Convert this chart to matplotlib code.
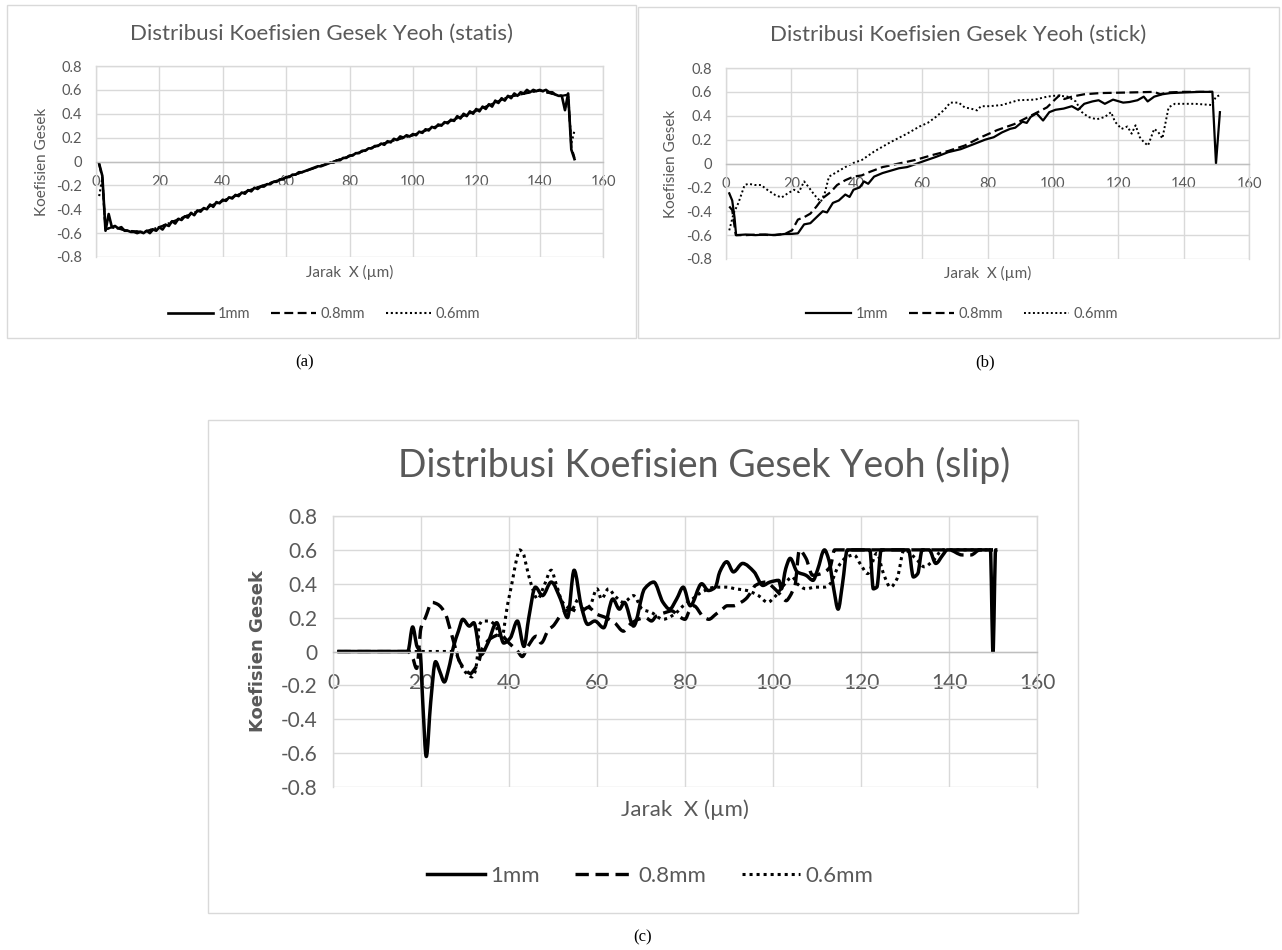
import numpy as np
import matplotlib
matplotlib.use("Agg")
import matplotlib.pyplot as plt
from matplotlib.patches import Rectangle, PathPatch
from matplotlib.path import Path
from matplotlib.lines import Line2D

plt.rcParams["axes.unicode_minus"] = False

# ---------------------------------------------------------------- data
series_labels = ["1mm", "0.8mm", "0.6mm"]
x_ticks = [0, 20, 40, 60, 80, 100, 120, 140, 160]
x_tick_labels = ["0", "20", "40", "60", "80", "100", "120", "140", "160"]
y_ticks = [-0.8, -0.6, -0.4, -0.2, 0.0, 0.2, 0.4, 0.6, 0.8]
y_tick_labels = ["-0.8", "-0.6", "-0.4", "-0.2", "0", "0.2", "0.4", "0.6", "0.8"]

# (a) static friction coefficient
statis_x_1mm = list(range(1, 152))
statis_1mm = [
    -0.02, -0.12, -0.58, -0.44, -0.55, -0.54, -0.56, -0.55, -0.58, -0.58,
    -0.59, -0.59, -0.60, -0.59, -0.60, -0.58, -0.60, -0.57, -0.58, -0.55,
    -0.57, -0.53, -0.54, -0.50, -0.52, -0.48, -0.49, -0.46, -0.47, -0.43,
    -0.45, -0.41, -0.42, -0.39, -0.40, -0.36, -0.38, -0.34, -0.35, -0.32,
    -0.33, -0.30, -0.31, -0.28, -0.29, -0.26, -0.27, -0.24, -0.25, -0.22,
    -0.23, -0.21, -0.21, -0.19, -0.19, -0.17, -0.17, -0.15, -0.15, -0.13,
    -0.13, -0.11, -0.11, -0.09, -0.09, -0.08, -0.07, -0.06, -0.05, -0.04,
    -0.04, -0.03, -0.02, -0.01, -0.01, 0.01, 0.01, 0.03, 0.03, 0.05,
    0.05, 0.07, 0.07, 0.09, 0.09, 0.11, 0.11, 0.13, 0.13, 0.15,
    0.14, 0.17, 0.16, 0.19, 0.18, 0.21, 0.20, 0.22, 0.21, 0.23,
    0.22, 0.25, 0.24, 0.27, 0.26, 0.29, 0.28, 0.31, 0.30, 0.33,
    0.32, 0.35, 0.34, 0.38, 0.36, 0.40, 0.38, 0.42, 0.40, 0.44,
    0.42, 0.46, 0.44, 0.48, 0.46, 0.51, 0.49, 0.53, 0.51, 0.55,
    0.53, 0.57, 0.55, 0.58, 0.57, 0.60, 0.58, 0.60, 0.59, 0.60,
    0.59, 0.60, 0.58, 0.58, 0.56, 0.55, 0.55, 0.43, 0.57, 0.10,
    0.02,
]
statis_x_08 = [1, 2, 3, 5, 10, 15, 20, 30, 40, 50, 60, 70, 80, 90, 100,
               110, 120, 130, 140, 145, 147, 149, 150, 151]
statis_08 = [-0.02, -0.14, -0.57, -0.55, -0.58, -0.59, -0.55, -0.44, -0.33,
             -0.225, -0.135, -0.045, 0.045, 0.145, 0.22, 0.32, 0.425, 0.54,
             0.595, 0.56, 0.55, 0.56, 0.12, 0.03]
statis_x_06 = [1, 2, 3, 5, 10, 15, 20, 30, 40, 50, 60, 70, 80, 90, 100,
               110, 120, 130, 140, 145, 147, 149, 150, 151]
statis_06 = [-0.29, -0.14, -0.57, -0.55, -0.58, -0.59, -0.55, -0.44, -0.33,
             -0.225, -0.135, -0.045, 0.045, 0.145, 0.22, 0.32, 0.425, 0.54,
             0.595, 0.56, 0.55, 0.56, 0.15, 0.26]

# (b) stick friction coefficient
stick_x_1mm = [1, 1.9, 2.6, 3.1, 6, 9, 12, 15, 18, 20, 22, 23.9, 25.8, 27.7,
               29.6, 30.9, 32.7, 34.5, 36.5, 37.8, 39, 40.9, 42.2, 43.5, 45.3,
               47.9, 50.4, 52.9, 55.4, 58, 60.5, 64.2, 68, 71.8, 75.6, 79.3,
               81.9, 84.4, 86.9, 88.5, 90.7, 92, 93.2, 95, 97, 98.9, 100.8,
               103.3, 105.8, 107.7, 109.6, 112.1, 114, 115.9, 118.4, 121.5,
               123.4, 125.9, 127.8, 129, 131, 133.5, 136, 140, 145, 148.8,
               149.9, 151.1]
stick_1mm = [-0.25, -0.31, -0.45, -0.60, -0.595, -0.60, -0.595, -0.60, -0.59,
             -0.59, -0.585, -0.51, -0.50, -0.45, -0.40, -0.41, -0.33, -0.31,
             -0.26, -0.28, -0.22, -0.20, -0.15, -0.17, -0.11, -0.08, -0.06,
             -0.04, -0.03, -0.005, 0.02, 0.055, 0.095, 0.12, 0.16, 0.20, 0.22,
             0.26, 0.29, 0.30, 0.35, 0.34, 0.39, 0.42, 0.36, 0.43, 0.45, 0.46,
             0.48, 0.45, 0.50, 0.52, 0.53, 0.50, 0.535, 0.51, 0.515, 0.53,
             0.56, 0.52, 0.56, 0.58, 0.59, 0.595, 0.60, 0.60, 0.0, 0.43]
stick_x_08 = [1, 1.9, 3, 6, 10, 14, 18, 20.2, 22, 23.9, 25.8, 27.7, 29.6, 32,
              34, 36.5, 39, 41.5, 44, 47.9, 52.9, 58, 63, 68, 73, 78, 83, 88.2,
              93.2, 98.2, 100.8, 102, 103.5, 105.8, 109.6, 114.6, 123.4, 131,
              132.9, 135, 140, 149]
stick_08 = [-0.36, -0.39, -0.60, -0.60, -0.595, -0.60, -0.59, -0.56, -0.47,
            -0.45, -0.42, -0.36, -0.29, -0.24, -0.18, -0.14, -0.11, -0.10,
            -0.07, -0.03, 0.0, 0.03, 0.07, 0.105, 0.15, 0.22, 0.28, 0.33,
            0.40, 0.47, 0.54, 0.57, 0.54, 0.56, 0.58, 0.59, 0.595, 0.60,
            0.58, 0.595, 0.60, 0.60]
stick_x_06 = [1, 2.3, 3.8, 5.7, 6.9, 8.8, 10.7, 12.6, 15.1, 17, 18.9, 20.8,
              22.3, 23.9, 25.2, 27.1, 29, 30.2, 31.5, 34, 36.5, 39, 41.6,
              45.3, 50.4, 55.4, 59.2, 61.7, 64.2, 66.8, 68.6, 71.2, 73, 74.9,
              76.8, 78, 80.6, 84.4, 89.4, 94.5, 98.2, 101.3, 104.5, 107,
              108.9, 110.8, 113.4, 115.9, 117.8, 119, 121, 122.8, 124.1,
              125.3, 126.6, 127.8, 129.1, 131, 132.2, 133.5, 135.4, 137.3,
              143.6, 148.6, 149.9, 150.9]
stick_06 = [-0.56, -0.42, -0.33, -0.18, -0.17, -0.18, -0.18, -0.22, -0.265,
            -0.285, -0.25, -0.22, -0.24, -0.15, -0.195, -0.265, -0.32, -0.25,
            -0.11, -0.07, -0.03, 0.005, 0.03, 0.10, 0.18, 0.25, 0.31, 0.34,
            0.39, 0.45, 0.51, 0.51, 0.47, 0.46, 0.445, 0.48, 0.48, 0.49,
            0.53, 0.535, 0.56, 0.57, 0.56, 0.52, 0.43, 0.39, 0.37, 0.39,
            0.43, 0.35, 0.29, 0.31, 0.25, 0.32, 0.22, 0.18, 0.15, 0.29,
            0.265, 0.21, 0.47, 0.50, 0.50, 0.49, 0.56, 0.57]

# (c) slip friction coefficient
slip_x_1mm = [1, 17, 18.1, 19.1, 19.8, 20.4, 21.2, 22.2, 23.3, 24.3, 25.3,
              26.3, 27.4, 28.5, 29.5, 31, 32, 33.6, 35.2, 37.2, 38.8, 40.3,
              41.9, 43.4, 44.5, 46, 47.6, 49.6, 51.7, 53.3, 54.8, 56.4, 57.9,
              59.5, 61.5, 63.6, 65.1, 66.2, 68.3, 70.8, 72.9, 75, 76.5, 78.1,
              79.6, 81.2, 83.8, 85.3, 86.9, 87.9, 89.5, 91, 93.1, 95.7, 97.7,
              99.3, 101.3, 101.9, 102.9, 103.9, 105.5, 107.5, 109.1, 110.1,
              111.7, 112.7, 113.8, 114.8, 115.8, 116.9, 122, 122.8, 123.6,
              124.6, 130.8, 131.9, 132.9, 133.9, 135.5, 137, 138.6, 139.6,
              149.4, 150.0, 150.6, 151]
slip_1mm = [0.0, 0.0, 0.145, 0.03, 0.0, -0.3, -0.62, -0.3, -0.06, -0.12,
            -0.18, -0.10, 0.03, 0.12, 0.19, 0.15, 0.17, -0.02, 0.05, 0.17,
            0.05, 0.08, 0.18, 0.03, 0.20, 0.38, 0.33, 0.41, 0.31, 0.20, 0.48,
            0.27, 0.16, 0.18, 0.14, 0.31, 0.25, 0.29, 0.15, 0.37, 0.41, 0.29,
            0.25, 0.31, 0.38, 0.27, 0.40, 0.36, 0.38, 0.47, 0.53, 0.47, 0.52,
            0.47, 0.39, 0.41, 0.42, 0.37, 0.49, 0.55, 0.47, 0.45, 0.42, 0.48,
            0.60, 0.54, 0.37, 0.25, 0.40, 0.60, 0.60, 0.37, 0.38, 0.60, 0.60,
            0.44, 0.46, 0.60, 0.60, 0.52, 0.57, 0.60, 0.60, 0.0, 0.60, 0.60]
slip_x_08 = [1, 17, 18, 19, 20, 21, 22.5, 23.7, 25.6, 26.3, 27.5, 28.6, 29.8,
             31.3, 32, 33, 34, 36, 38, 40, 42, 43, 44.3, 46.2, 47.3, 49, 50,
             52, 54, 56, 58, 60, 62, 64, 66, 67.5, 69.4, 71, 72.4, 73.5, 75.5,
             77, 78.5, 80, 81, 82, 84, 85.4, 87, 88.5, 89.6, 91, 92.7, 93.8,
             95, 96, 98.4, 100, 101.5, 103, 103.7, 104.5, 105, 106, 107.5,
             109, 111, 113, 114, 116, 120, 130, 140, 143, 145, 147, 150]
slip_08 = [0.0, 0.0, -0.03, -0.10, 0.14, 0.20, 0.29, 0.28, 0.22, 0.16, 0.05,
           -0.05, -0.10, -0.13, -0.11, -0.07, 0.02, 0.08, 0.10, 0.05, 0.0,
           -0.03, 0.03, 0.09, 0.05, 0.13, 0.15, 0.22, 0.25, 0.23, 0.26, 0.22,
           0.20, 0.17, 0.12, 0.16, 0.19, 0.20, 0.18, 0.21, 0.23, 0.24, 0.21,
           0.19, 0.24, 0.27, 0.21, 0.19, 0.22, 0.25, 0.27, 0.27, 0.29, 0.31,
           0.35, 0.39, 0.41, 0.38, 0.34, 0.30, 0.32, 0.36, 0.39, 0.60, 0.55,
           0.45, 0.46, 0.50, 0.60, 0.60, 0.60, 0.60, 0.60, 0.57, 0.57, 0.60,
           0.60]
slip_x_06 = [1, 20, 28, 28.6, 29.3, 30.4, 31.6, 32.4, 32.8, 33.2, 34, 35.5,
             37, 38.2, 39.7, 40.8, 41.6, 42.4, 43.2, 44, 45, 46.5, 48, 49.6,
             50.7, 52.2, 54.3, 55.8, 56.9, 58.4, 60, 61, 62.6, 64, 66, 68.3,
             70.3, 72.4, 75, 77.6, 79.6, 81.7, 83.8, 86.9, 89.5, 91.5, 94.1,
             96.7, 98.8, 100.3, 102.4, 104.4, 105.5, 107.5, 109.6, 111.7, 113,
             114.8, 116.9, 118.4, 120, 121.5, 123.6, 125.1, 126.7, 128.2,
             129.8, 132.4, 134.4, 136.5, 138.6, 150]
slip_06 = [0.0, 0.0, 0.0, -0.05, -0.09, -0.13, -0.15, -0.11, -0.03, 0.15,
           0.18, 0.18, 0.15, 0.07, 0.28, 0.42, 0.53, 0.60, 0.58, 0.50, 0.40,
           0.31, 0.39, 0.48, 0.40, 0.29, 0.25, 0.31, 0.25, 0.27, 0.37, 0.31,
           0.37, 0.33, 0.29, 0.33, 0.25, 0.23, 0.19, 0.22, 0.27, 0.31, 0.35,
           0.38, 0.38, 0.37, 0.36, 0.33, 0.29, 0.32, 0.39, 0.44, 0.40, 0.37,
           0.38, 0.38, 0.40, 0.50, 0.56, 0.57, 0.51, 0.46, 0.58, 0.46, 0.38,
           0.43, 0.60, 0.55, 0.50, 0.54, 0.60, 0.60]

# ---------------------------------------------------------------- style
FW, FH = 1282, 950
GRID = "#d9d9d9"
AXIS = "#bfbfbf"
TEXT = "#595959"
FONT = "Lato"

fig = plt.figure(figsize=(FW / 100, FH / 100), dpi=100)


def fx(px):
    return px / FW


def fy(py):
    return 1 - py / FH


def axes_box(left, top, right, bottom):
    return fig.add_axes([fx(left), fy(bottom), fx(right) - fx(left),
                         (bottom - top) / FH])


def style_axes(ax, tick_fs, xpad, ypad):
    ax.set_xlim(0, 160)
    ax.set_ylim(-0.8, 0.8)
    ax.set_xticks(x_ticks)
    ax.set_xticklabels(x_tick_labels)
    ax.set_yticks(y_ticks)
    ax.set_yticklabels(y_tick_labels)
    ax.grid(True, color=GRID, lw=1.0)
    ax.set_axisbelow(True)
    for s in ("left", "right", "top"):
        ax.spines[s].set_color(GRID)
        ax.spines[s].set_linewidth(1.0)
    ax.spines["bottom"].set_position(("data", 0))
    ax.spines["bottom"].set_color(AXIS)
    ax.spines["bottom"].set_linewidth(1.0)
    ax.tick_params(length=0, colors=TEXT, labelsize=tick_fs)
    ax.tick_params(axis="x", pad=xpad)
    ax.tick_params(axis="y", pad=ypad)
    for lab in ax.get_xticklabels() + ax.get_yticklabels():
        lab.set_fontfamily(FONT)


def line_styles(lw_solid, lw_dash, lw_dot):
    return [
        dict(color="black", lw=lw_solid, ls="-"),
        dict(color="black", lw=lw_dash, ls=(0, (4.0, 2.0))),
        dict(color="black", lw=lw_dot, ls=(0, (1.0, 1.3))),
    ]


def pchip_slopes(x, y):
    """Shape-preserving tangents (Fritsch-Carlson) at every data point."""
    h = np.diff(x)
    d = np.diff(y) / h
    n = len(x)
    m = np.zeros(n)
    for k in range(1, n - 1):
        if d[k - 1] * d[k] > 0:
            w1 = 2 * h[k] + h[k - 1]
            w2 = h[k] + 2 * h[k - 1]
            m[k] = (w1 + w2) / (w1 / d[k - 1] + w2 / d[k])
    m[0] = d[0] if n > 1 else 0.0
    m[-1] = d[-1] if n > 1 else 0.0
    return m


def smooth_line(ax, xs, ys, style):
    """Smoothed line: cubic Bezier segments passing through every point."""
    x = np.asarray(xs, float)
    y = np.asarray(ys, float)
    m = pchip_slopes(x, y)
    verts = [(x[0], y[0])]
    codes = [Path.MOVETO]
    for i in range(len(x) - 1):
        h = x[i + 1] - x[i]
        verts += [(x[i] + h / 3, y[i] + m[i] * h / 3),
                  (x[i + 1] - h / 3, y[i + 1] - m[i + 1] * h / 3),
                  (x[i + 1], y[i + 1])]
        codes += [Path.CURVE4] * 3
    ax.add_patch(PathPatch(Path(verts, codes), fill=False,
                           edgecolor=style["color"], lw=style["lw"],
                           linestyle=style["ls"], joinstyle="round",
                           capstyle="butt"))


def panel(frame, plot_box, title, title_x, title_y, title_fs, ylab_x,
          ylab_kw, xlab_y, axis_fs, leg_x, leg_y, leg_fs, leg_kw, tick_fs,
          xpad, ypad, series, styles, smooth=False):
    l, t, r, b = frame
    fig.add_artist(Rectangle((fx(l), fy(b)), fx(r) - fx(l), (b - t) / FH,
                             transform=fig.transFigure, fill=False,
                             edgecolor=GRID, lw=1.0))
    ax = axes_box(*plot_box)
    style_axes(ax, tick_fs, xpad, ypad)
    for (xs, ys), st in zip(series, styles):
        if smooth:
            smooth_line(ax, xs, ys, st)
        else:
            ax.plot(xs, ys, solid_joinstyle="round", **st)
    pl, pt, pr, pb = plot_box
    fig.text(fx(title_x), fy(title_y), title, ha="center", va="center",
             fontsize=title_fs, color=TEXT, family=FONT)
    fig.text(fx(ylab_x), fy((pt + pb) / 2), "Koefisien Gesek", rotation=90,
             ha="center", va="center", color=TEXT, **ylab_kw)
    fig.text(fx((pl + pr) / 2), fy(xlab_y), "Jarak  X (µm)", ha="center",
             va="center", fontsize=axis_fs, color=TEXT, family=FONT)
    handles = [Line2D([], [], **st) for st in styles]
    ax.legend(handles, series_labels, loc="center",
              bbox_to_anchor=(fx(leg_x), fy(leg_y)),
              bbox_transform=fig.transFigure, ncol=3, frameon=False,
              labelcolor=TEXT, prop=dict(family=FONT, size=leg_fs), **leg_kw)
    return ax


small_leg = dict(handlelength=3.1, handletextpad=0.3, columnspacing=1.45)
big_leg = dict(handlelength=2.6, handletextpad=0.25, columnspacing=1.6)

panel((7, 5, 636, 338), (96, 66, 603, 257),
      "Distribusi Koefisien Gesek Yeoh (statis)", 321, 34, 16,
      42, dict(fontsize=11, family=FONT), 272, 11, 324, 314, 10.5, small_leg,
      10.5, 9.5, 10,
      [(statis_x_1mm, statis_1mm), (statis_x_08, statis_08),
       (statis_x_06, statis_06)],
      line_styles(1.9, 1.6, 1.5))

panel((638, 7, 1279, 338), (726, 68, 1249, 259),
      "Distribusi Koefisien Gesek Yeoh (stick)", 958, 35, 16,
      671, dict(fontsize=11, family=FONT), 273, 11, 962, 314, 10.5, small_leg,
      10.5, 9.5, 10,
      [(stick_x_1mm, stick_1mm), (stick_x_08, stick_08),
       (stick_x_06, stick_06)],
      line_styles(1.6, 1.6, 1.4))

panel((208, 420, 1078, 913), (333, 516, 1037, 787),
      "Distribusi Koefisien Gesek Yeoh (slip)", 704, 465, 27,
      258, dict(fontsize=13, family="DejaVu Sans", weight="bold"), 810, 16,
      650, 876, 16, big_leg, 15, 15.5, 11,
      [(slip_x_1mm, slip_1mm), (slip_x_08, slip_08), (slip_x_06, slip_06)],
      line_styles(2.5, 2.4, 2.2), smooth=True)

for txt, px, py in (("(a)", 305, 362), ("(b)", 985, 362), ("(c)", 643, 937)):
    fig.text(fx(px), fy(py), txt, ha="center", va="center", fontsize=12,
             family="Liberation Serif", color="black")

fig.savefig("out.png", dpi=100, facecolor="white")
